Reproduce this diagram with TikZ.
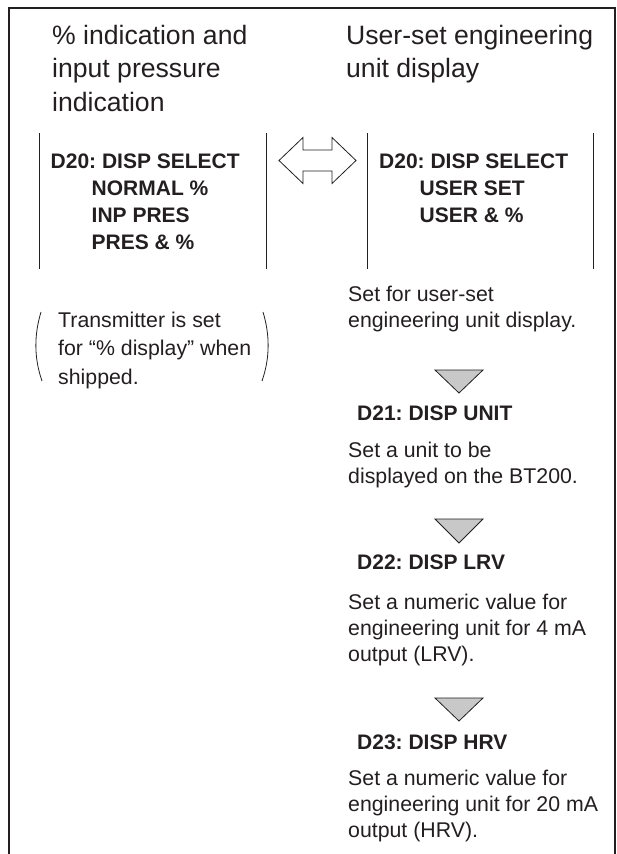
\documentclass[tikz,border=0pt]{standalone}
\usepackage{fontspec}
\setmainfont{Liberation Sans}
\usetikzlibrary{positioning,calc}
\definecolor{ink}{HTML}{231F20}
\definecolor{trigray}{HTML}{C8C8C8}
\frenchspacing

\begin{document}
\begin{tikzpicture}[x=1pt, y=-1pt,
  head/.style={anchor=base west, align=left, inner sep=0, text=ink, font=\fontsize{26.6}{33.5}\selectfont},
  param/.style={anchor=base west, align=left, inner sep=0, text=ink, font=\fontsize{21}{27}\selectfont\bfseries},
  note/.style={anchor=base west, align=left, inner sep=0, text=ink, font=\fontsize{21.3}{26}\selectfont},
  rule/.style={draw=ink, line width=1pt},
  step tri/.style={draw=ink, fill=trigray, line width=0.8pt, line join=miter}
]
  \useasboundingbox (0,0) rectangle (617,854);
  % outer frame, open at the bottom
  \draw[draw=ink, line width=1.3pt] (9,854) -- (9,8) -- (615,8) -- (615,854);

  % headings (multi-line nodes sit on the baseline of their last line)
  \node[head] (hleft) at (52,111) {\% indication and\\input pressure\\indication};
  \node[head] (hright) at (346,77.5) {User-set engineering\\unit display};

  % display select blocks
  \draw[rule] (39,133) -- (39,269);
  \draw[rule] (266,133) -- (266,269);
  \draw[rule] (367,133) -- (367,269);
  \draw[rule] (593,133) -- (593,269);
  \node[param] (selleft) at (50.5,168) {D20: DISP SELECT};
  \node[param] (optleft) at (91.5,249) {NORMAL \%\\INP PRES\\PRES \& \%};
  \node[param] (selright) at (379,168) {D20: DISP SELECT};
  \node[param] (optright) at (419.5,222) {USER SET\\USER \& \%};

  % double arrow between the two blocks
  \draw[draw=ink, line width=0.8pt, line join=miter]
    (279,160.5) -- (303,137.5) -- (303,150) -- (332,150) -- (332,137.5)
    -- (356,160.5) -- (332,183.5) -- (332,171) -- (303,171) -- (303,183.5) -- cycle;

  % shipping note
  \node[note, font=\fontsize{21.3}{28.5}\selectfont] (ship) at (58,384) {Transmitter is set\\for “\% display” when\\shipped.};
  \draw[draw=ink, line width=0.8pt] (41,312) .. controls (34,335) and (34,358) .. (42,381);
  \draw[draw=ink, line width=0.8pt] (263,312) .. controls (270,335) and (270,358) .. (262,381);

  % user-set steps
  \node[note] (userset) at (348,327) {Set for user-set\\engineering unit display.};
  \filldraw[step tri] (435,370) -- (483,370) -- (459,393) -- cycle;
  \node[param] (d21) at (357,420) {D21: DISP UNIT};
  \node[note] (unit) at (348,483) {Set a unit to be\\displayed on the BT200.};
  \filldraw[step tri] (435,519) -- (483,519) -- (459,543) -- cycle;
  \node[param] (d22) at (357,569) {D22: DISP LRV};
  \node[note] (lrv) at (348,661) {Set a numeric value for\\engineering unit for 4 mA\\output (LRV).};
  \filldraw[step tri] (435,698) -- (483,698) -- (459,721) -- cycle;
  \node[param] (d23) at (357,749) {D23: DISP HRV};
  \node[note] (hrv) at (348,837) {Set a numeric value for\\engineering unit for 20 mA\\output (HRV).};
\end{tikzpicture}
\end{document}
